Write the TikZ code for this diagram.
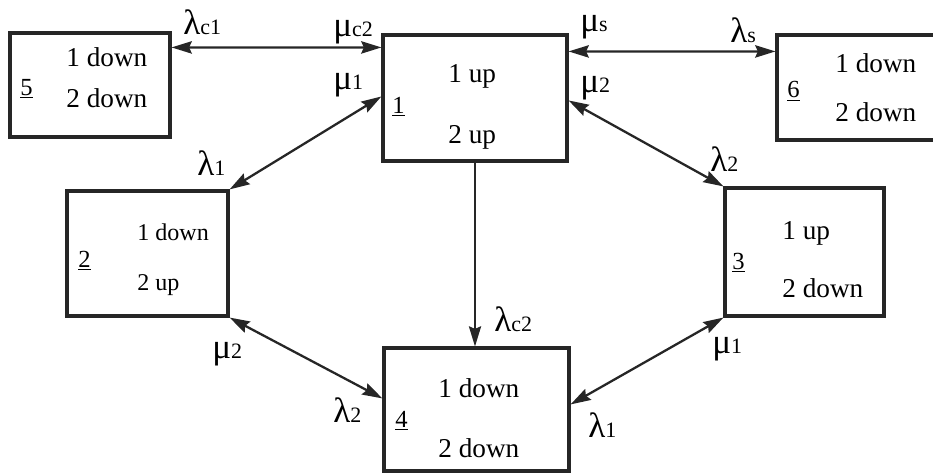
\documentclass[tikz,border=0pt]{standalone}
\usepackage{fontspec}
\setmainfont{Liberation Serif}
\usetikzlibrary{arrows.meta, calc}

\newcommand{\trate}[2]{{\fontsize{20}{20}\selectfont #1}{\fontsize{12.5}{12.5}\selectfont #2}}

\begin{document}
\begin{tikzpicture}[
    x=0.02cm, y=-0.02cm,
    box/.style={rectangle, draw=black!85, line width=1.8pt, inner sep=0pt},
    txt/.style={anchor=base west, inner sep=0pt, font=\fontsize{15.5}{15.5}\selectfont},
    smalltxt/.style={txt, font=\fontsize{13.7}{13.7}\selectfont},
    num/.style={anchor=base west, inner sep=0pt, font=\fontsize{14}{14}\selectfont},
    lbl/.style={anchor=base west, inner sep=0pt},
    arrow/.style={{Stealth[length=11.5pt, width=7pt, inset=1.5pt]}-{Stealth[length=11.5pt, width=7pt, inset=1.5pt]},
    draw=black!85, line width=1.3pt},
    oneway/.style={-{Stealth[length=11.5pt, width=7pt, inset=1.5pt]}, draw=black!85, line width=0.7pt} ]
    \useasboundingbox (0,0) rectangle (933,473);

    % State boxes
    \node[box, minimum width=3.2cm, minimum height=2.08cm] (s5_box) at (90,85) {};
    \node[box, minimum width=3.68cm, minimum height=2.52cm] (s1_box) at (475,98) {};
    \node[box, minimum width=3.26cm, minimum height=2.1cm] (s6_box) at (858.5,87.5) {};
    \node[box, minimum width=3.22cm, minimum height=2.5cm] (s2_box) at (147.5,253.5) {};
    \node[box, minimum width=3.18cm, minimum height=2.56cm] (s3_box) at (804.5,252) {};
    \node[box, minimum width=3.7cm, minimum height=2.46cm] (s4_box) at (476.5,409.5) {};

    % Contents of the boxes
    \node[num] (s5_num) at (20,95) {\underline{5}};
    \node[txt] (s5_top) at (66,67) {1 down};
    \node[txt] (s5_bot) at (66,108) {2 down};
    \node[num] (s1_num) at (392,113) {\underline{1}};
    \node[txt] (s1_top) at (448,83) {1 up};
    \node[txt] (s1_bot) at (448,143) {2 up};
    \node[num] (s6_num) at (787,98) {\underline{6}};
    \node[txt] (s6_top) at (835,73) {1 down};
    \node[txt] (s6_bot) at (835,122) {2 down};
    \node[num] (s2_num) at (78,267) {\underline{2}};
    \node[smalltxt] (s2_top) at (137,240) {1 down};
    \node[smalltxt] (s2_bot) at (137,290) {2 up};
    \node[num] (s3_num) at (732,269) {\underline{3}};
    \node[txt] (s3_top) at (782,239) {1 up};
    \node[txt] (s3_bot) at (782,297) {2 down};
    \node[num] (s4_num) at (395,427) {\underline{4}};
    \node[txt] (s4_top) at (438,397) {1 down};
    \node[txt] (s4_bot) at (438,457) {2 down};

    % Transitions between the states
    \draw[arrow] ($(s5_box.north east)+(0,16)$) -- ($(s1_box.north west)+(0,14)$);
    \draw[arrow] ($(s1_box.north east)+(0,18)$) -- ($(s6_box.north west)+(0,18)$);
    \draw[arrow] ($(s1_box.north west)+(0,63)$) -- (s2_box.north east);
    \draw[arrow] ($(s1_box.north east)+(0,67)$) -- (s3_box.north west);
    \draw[arrow] (s2_box.south east) -- ($(s4_box.north west)+(0,52)$);
    \draw[arrow] (s3_box.south west) -- ($(s4_box.north east)+(0,58)$);
    \draw[oneway] (s1_box.south) -- (s1_box.south |- s4_box.north);

    % Rate labels
    \node[lbl] (l_c1) at (183,35) {\trate{λ}{c1}};
    \node[lbl] (m_c2) at (333,37) {\trate{μ}{c2}};
    \node[lbl] (m_1a) at (333,90) {\trate{μ}{1}};
    \node[lbl] (l_1a) at (197,175) {\trate{λ}{1}};
    \node[lbl] (m_s) at (580,32) {\trate{μ}{s}};
    \node[lbl] (l_s) at (730,43) {\trate{λ}{s}};
    \node[lbl] (m_2a) at (580,92) {\trate{μ}{2}};
    \node[lbl] (l_2a) at (710,172) {\trate{λ}{2}};
    \node[lbl] (m_2b) at (212,358) {\trate{μ}{2}};
    \node[lbl] (l_2b) at (333,422) {\trate{λ}{2}};
    \node[lbl] (l_c2) at (494,331) {\trate{λ}{c2}};
    \node[lbl] (m_1b) at (712,353) {\trate{μ}{1}};
    \node[lbl] (l_1b) at (588,437) {\trate{λ}{1}};

\end{tikzpicture}
\end{document}
